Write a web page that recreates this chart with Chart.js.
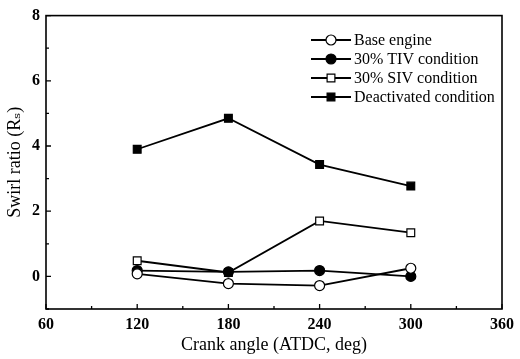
<!DOCTYPE html>
<html>
<head>
<meta charset="utf-8">
<script src="https://cdn.jsdelivr.net/npm/chart.js@4"></script>
<style>
  body { margin: 0; background: #fff; }
  #wrap { width: 520px; height: 359px; }
</style>
</head>
<body>
<div id="wrap"><canvas id="swirlChart"></canvas></div>
<script>
// crank angles (ATDC, deg)
const crankAngles = [120, 180, 240, 300];

// swirl ratio per condition
const baseEngine = [0.08, -0.22, -0.28, 0.25];
const tivCondition = [0.18, 0.14, 0.18, 0.0];
const sivCondition = [0.48, 0.12, 1.70, 1.34];
const deactivated = [3.90, 4.85, 3.43, 2.77];

const seriesNames = ['Base engine', '30% TIV condition', '30% SIV condition', 'Deactivated condition'];

const serif = "'Liberation Serif', 'DejaVu Serif', serif";

function toPoints(vals) {
    return crankAngles.map((x, i) => ({ x: x, y: vals[i] }));
}

function makeSet(label, vals, style, filled) {
    return {
        label: label,
        data: toPoints(vals),
        borderColor: '#000',
        borderWidth: 1.8,
        pointStyle: style,
        pointRadius: style === 'rect' ? 5.5 : 5,
        pointBorderWidth: 1.2,
        pointBorderColor: '#000',
        pointBackgroundColor: filled ? '#000' : '#fff',
        fill: false,
        tension: 0
    };
}

// ticks pointing into the plot + the box around it
const frameTicks = {
    id: 'frameTicks',
    afterDatasetsDraw(chart) {
        const ctx = chart.ctx;
        const a = chart.chartArea;
        const xs = chart.scales.x, ys = chart.scales.y;
        ctx.save();
        ctx.strokeStyle = '#000';
        ctx.lineWidth = 1.6;
        ctx.strokeRect(a.left, a.top, a.right - a.left, a.bottom - a.top);
        ctx.lineWidth = 1.3;
        ctx.beginPath();
        for (let v = 60; v <= 360; v += 30) {
            const px = xs.getPixelForValue(v);
            const len = v % 60 === 0 ? 5 : 3;
            ctx.moveTo(px, a.bottom);
            ctx.lineTo(px, a.bottom - len);
        }
        for (let v = -1; v <= 8; v += 1) {
            const py = ys.getPixelForValue(v);
            const len = v % 2 === 0 ? 5 : 3;
            ctx.moveTo(a.left, py);
            ctx.lineTo(a.left + len, py);
        }
        ctx.stroke();
        ctx.restore();
    }
};

// legend: short line with the marker in the middle
const lineLegend = {
    id: 'lineLegend',
    afterDraw(chart) {
        const ctx = chart.ctx;
        ctx.save();
        ctx.font = '16px ' + serif;
        ctx.textBaseline = 'middle';
        chart.data.datasets.forEach((ds, i) => {
            const y = 40 + i * 19;
            const x0 = 311, x1 = 351, xm = 331;
            ctx.strokeStyle = '#000';
            ctx.lineWidth = 1.8;
            ctx.beginPath();
            ctx.moveTo(x0, y);
            ctx.lineTo(x1, y);
            ctx.stroke();
            ctx.lineWidth = ds.pointBorderWidth;
            ctx.fillStyle = ds.pointBackgroundColor;
            Chart.helpers.drawPoint(ctx, {
                pointStyle: ds.pointStyle,
                radius: ds.pointRadius,
                rotation: 0,
                borderWidth: ds.pointBorderWidth
            }, xm, y);
            ctx.fillStyle = '#000';
            ctx.fillText(ds.label, 354, y + 1);
        });
        ctx.restore();
    }
};

new Chart(document.getElementById('swirlChart'), {
    type: 'line',
    data: {
        datasets: [
            makeSet(seriesNames[0], baseEngine, 'circle', false),
            makeSet(seriesNames[1], tivCondition, 'circle', true),
            makeSet(seriesNames[2], sivCondition, 'rect', false),
            makeSet(seriesNames[3], deactivated, 'rect', true)
        ]
    },
    options: {
        responsive: true,
        maintainAspectRatio: false,
        animation: false,
        layout: { padding: { top: 14, right: 12, left: 0, bottom: 0 } },
        plugins: {
            legend: { display: false },
            tooltip: { enabled: false }
        },
        scales: {
            x: {
                type: 'linear',
                min: 60,
                max: 360,
                afterFit(s) { s.height = 50; },
                grid: { display: false, drawTicks: false },
                border: { display: false },
                ticks: {
                    stepSize: 30,
                    padding: 6,
                    color: '#000',
                    font: { family: serif, size: 16, weight: 'bold' },
                    callback: v => (v % 60 === 0 ? v : '')
                },
                title: {
                    display: true,
                    text: 'Crank angle (ATDC, deg)',
                    color: '#000',
                    padding: { top: 0, bottom: 3 },
                    font: { family: serif, size: 18 }
                }
            },
            y: {
                min: -1,
                max: 8,
                afterFit(s) { s.width = 46; },
                grid: { display: false, drawTicks: false },
                border: { display: false },
                ticks: {
                    stepSize: 1,
                    padding: 6,
                    color: '#000',
                    font: { family: serif, size: 16, weight: 'bold' },
                    callback: v => (v % 2 === 0 ? v : '')
                },
                title: {
                    display: true,
                    text: 'Swirl ratio (Rₛ)',
                    color: '#000',
                    padding: { top: 4, bottom: 0 },
                    font: { family: serif, size: 18 }
                }
            }
        }
    },
    plugins: [frameTicks, lineLegend]
});
</script>
</body>
</html>
